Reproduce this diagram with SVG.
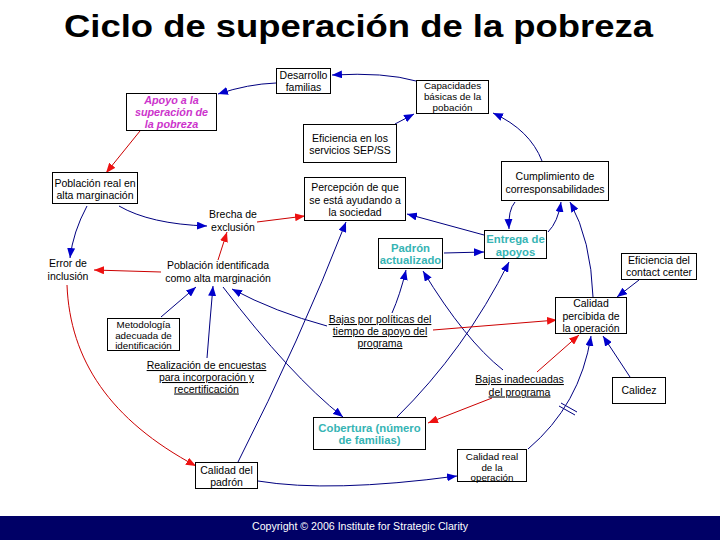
<svg xmlns="http://www.w3.org/2000/svg" width="720" height="540" viewBox="0 0 720 540">
<style>
.box{fill:#fff;stroke:#000;stroke-width:1}
.t{font-family:"Liberation Sans",Arial,sans-serif;font-size:10.5px;fill:#000;text-anchor:middle}
.s{font-size:9.8px}
.u{text-decoration:underline}
.teal{font-weight:bold;font-size:11.3px;fill:#36b4b4}
.mag{font-weight:bold;font-style:italic;font-size:10.8px;fill:#cc33cc}
.b{fill:none;stroke:#000080;stroke-width:1}
.r{fill:none;stroke:#cc0000;stroke-width:1}
.bm{marker-end:url(#ab)}
.rm{marker-end:url(#ar)}
</style>
<defs>
<marker id="ab" viewBox="0 0 10 8" refX="10" refY="4" markerWidth="10" markerHeight="8" markerUnits="userSpaceOnUse" orient="auto"><path d="M0,0 L10,4 L0,8 z" fill="#0000cc"/></marker>
<marker id="ar" viewBox="0 0 10 8" refX="10" refY="4" markerWidth="10" markerHeight="8" markerUnits="userSpaceOnUse" orient="auto"><path d="M0,0 L10,4 L0,8 z" fill="#ee1111"/></marker>
</defs>
<rect x="0" y="0" width="720" height="540" fill="#fff"/>
<text x="358.5" y="37" font-family="'Liberation Sans',Arial,sans-serif" font-size="32" font-weight="bold" text-anchor="middle" textLength="589" lengthAdjust="spacingAndGlyphs" fill="#000">Ciclo de superación de la pobreza</text>

<g id="connectors">
<path class="b bm" d="M276,83 Q248,84 218,94"/>
<path class="b bm" d="M416,81 Q385,72 332,75"/>
<path class="b bm" d="M395,124 L414,114"/>
<path class="b bm" d="M542,161 Q530,130 493,113"/>
<path class="b bm" d="M119,206 Q150,224 207,226"/>
<path class="b bm" d="M87,206 Q73,232 70,258"/>
<path class="b bm" d="M161,317 L196,287"/>
<path class="b bm" d="M207,358 Q210,320 213,286"/>
<path class="b bm" d="M327,326 Q275,312 232,289"/>
<path class="b bm" d="M223,287 Q290,375 343,417"/>
<path class="b bm" d="M238,462 Q300,340 346,222"/>
<path class="b bm" d="M515,202 Q508,210 509,229"/>
<path class="b bm" d="M548,232 Q558,222 561,202"/>
<path class="b bm" d="M593,297 Q591,240 570,202"/>
<path class="b bm" d="M484,235 L407,214"/>
<path class="b bm" d="M444,253 L484,252"/>
<path class="b bm" d="M392,313 Q400,295 406,270"/>
<path class="b bm" d="M503,370 Q465,340 423,271"/>
<path class="b bm" d="M397,417 Q465,350 509,262"/>
<path class="b bm" d="M258,481 Q330,493 457,476"/>
<path class="b bm" d="M528,449 Q580,405 591,336"/>
<path class="b" d="M559,406 L575,415 M561,403 L577,412"/>
<path class="b bm" d="M630,377 L603,336"/>
<path class="b bm" d="M639,280 L617,297"/>
<path class="r rm" d="M140,131 L106,173"/>
<path class="r rm" d="M257,222 L305,216"/>
<path class="r rm" d="M218,260 L227,232"/>
<path class="r rm" d="M161,272 L94,270"/>
<path class="r rm" d="M433,330 L557,320"/>
<path class="r rm" d="M537,372 L579,335"/>
<path class="r rm" d="M492,398 L428,423"/>
<path class="r rm" d="M67,285 C70,360 110,420 196,466"/>
</g>

<g id="desarrollo"><rect class="box" x="276.5" y="68.5" width="54" height="25"/><text class="t" x="303.5" y="79">Desarrollo</text><text class="t" x="303.5" y="91">familias</text></g>
<g id="capacidades"><rect class="box" x="416.5" y="80.5" width="72" height="33"/><text class="t s" x="452.5" y="89">Capacidades</text><text class="t s" x="452.5" y="100">básicas de la</text><text class="t s" x="452.5" y="110.5">pobación</text></g>
<g id="apoyo"><rect class="box" x="126.5" y="93.5" width="90" height="37"/><text class="t mag" x="171.5" y="103.5">Apoyo a la</text><text class="t mag" x="171.5" y="116">superación de</text><text class="t mag" x="171.5" y="128">la pobreza</text></g>
<g id="eficiencia-servicios"><rect class="box" x="303.5" y="124.5" width="93" height="38"/><text class="t" x="350" y="141.5">Eficiencia en los</text><text class="t" x="350" y="154">servicios SEP/SS</text></g>
<g id="poblacion-real"><rect class="box" x="52.5" y="172.5" width="85" height="31"/><text class="t" x="95" y="186.5">Población real en</text><text class="t" x="95" y="199">alta marginación</text></g>
<g id="percepcion"><rect class="box" x="304.5" y="177.5" width="101" height="43"/><text class="t" x="355" y="191">Percepción de que</text><text class="t" x="355" y="203.5">se está ayudando a</text><text class="t" x="355" y="216">la sociedad</text></g>
<g id="cumplimiento"><rect class="box" x="501.5" y="161.5" width="107" height="39"/><text class="t" x="555" y="180">Cumplimiento de</text><text class="t" x="555" y="192.5">corresponsabilidades</text></g>
<g id="brecha"><text class="t" x="233" y="218">Brecha de</text><text class="t" x="233" y="231">exclusión</text></g>
<g id="error"><text class="t" x="68" y="267">Error de</text><text class="t" x="68" y="280">inclusión</text></g>
<g id="poblacion-identificada"><text class="t" x="218" y="269">Población identificada</text><text class="t" x="218" y="282">como alta marginación</text></g>
<g id="padron"><rect class="box" x="378.5" y="238.5" width="64" height="30"/><text class="t teal" x="410.5" y="251.5">Padrón</text><text class="t teal" x="410.5" y="264">actualizado</text></g>
<g id="entrega"><rect class="box" x="484.5" y="230.5" width="62" height="28"/><text class="t teal" x="515.5" y="243">Entrega de</text><text class="t teal" x="515.5" y="255.5">apoyos</text></g>
<g id="contact-center"><rect class="box" x="621.5" y="253.5" width="75" height="26"/><text class="t" x="659" y="263.5">Eficiencia del</text><text class="t" x="659" y="276">contact center</text></g>
<g id="metodologia"><rect class="box" x="107.5" y="318.5" width="72" height="32"/><text class="t s" x="143.5" y="328">Metodología</text><text class="t s" x="143.5" y="338.5">adecuada de</text><text class="t s" x="143.5" y="349">identificación</text></g>
<g id="bajas-politicas"><text class="t u" x="380" y="323">Bajas por políticas del</text><text class="t u" x="380" y="335">tiempo de apoyo del</text><text class="t u" x="380" y="347">programa</text></g>
<g id="calidad-percibida"><rect class="box" x="555.5" y="297.5" width="71" height="36"/><text class="t" x="591" y="307">Calidad</text><text class="t" x="591" y="319.5">percibida de</text><text class="t" x="591" y="331.5">la operación</text></g>
<g id="realizacion"><text class="t u" x="206.5" y="369">Realización de encuestas</text><text class="t u" x="206.5" y="381">para incorporación y</text><text class="t u" x="206.5" y="392.5">recertificación</text></g>
<g id="bajas-inadecuadas"><text class="t u" x="519.5" y="383">Bajas inadecuadas</text><text class="t u" x="519.5" y="395.5">del programa</text></g>
<g id="calidez"><rect class="box" x="612.5" y="377.5" width="53" height="26"/><text class="t" x="639" y="394">Calidez</text></g>
<g id="cobertura"><rect class="box" x="313.5" y="417.5" width="112" height="32"/><text class="t teal" x="369.5" y="431.5">Cobertura (número</text><text class="t teal" x="369.5" y="444">de familias)</text></g>
<g id="calidad-padron"><rect class="box" x="195.5" y="462.5" width="62" height="26"/><text class="t" x="226.5" y="473.5">Calidad del</text><text class="t" x="226.5" y="486">padrón</text></g>
<g id="calidad-real"><rect class="box" x="457.5" y="449.5" width="69" height="32"/><text class="t s" x="492" y="460">Calidad real</text><text class="t s" x="492" y="470.5">de la</text><text class="t s" x="492" y="480.5">operación</text></g>

<rect x="0" y="516" width="720" height="24" fill="#000066"/>
<text x="252" y="529.5" font-family="'Liberation Sans',Arial,sans-serif" font-size="10" fill="#fff" textLength="216" lengthAdjust="spacingAndGlyphs">Copyright © 2006 Institute for Strategic Clarity</text>
</svg>
